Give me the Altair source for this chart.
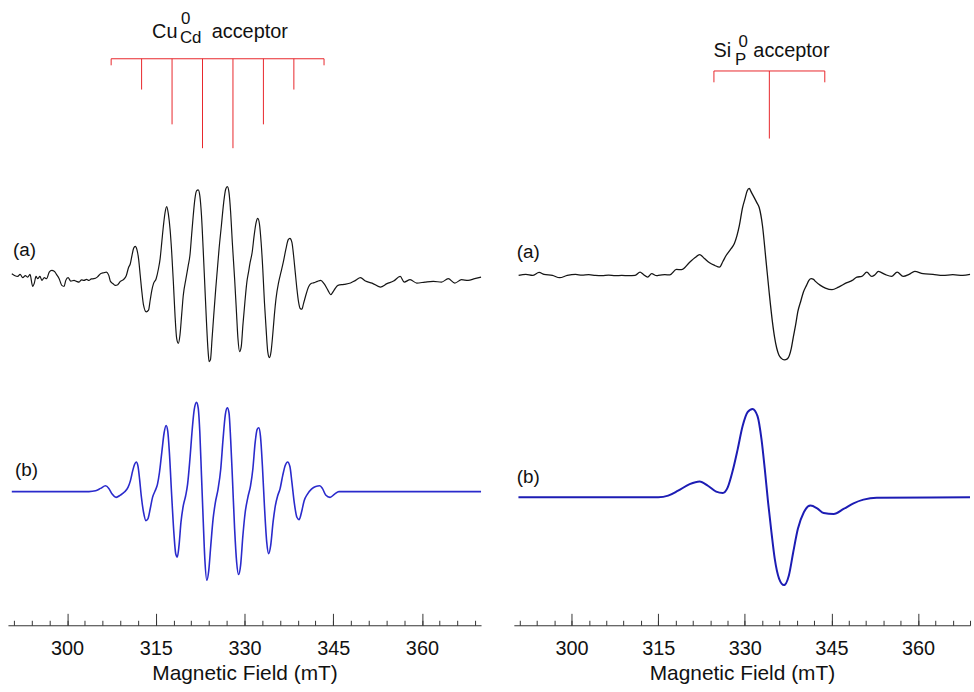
import altair as alt
import pandas as pd

# ---------------- data ----------------
MAJOR_TICKS = [300, 315, 330, 345, 360]
MINOR_TICKS = [291, 294, 297, 300, 303, 306, 309, 312, 315, 318, 321, 324, 327,
               330, 333, 336, 339, 342, 345, 348, 351, 354, 357, 360, 363, 366, 369]

# Cu_Cd acceptor stick diagram (field in mT, relative intensity)
CU_STICK_FIELD = [312.6, 317.75, 322.9, 328.05, 333.2, 338.35]
CU_STICK_INT = [31, 66, 90, 90, 66, 31]
CU_COMB_ENDS = [307.45, 343.45]

# Si_P acceptor stick diagram
SI_STICK_FIELD = [334.25]
SI_STICK_INT = [68]
SI_COMB_ENDS = [324.65, 343.85]

# Left (a): measured Cu spectrum
LEFT_A_FIELD = [290.65, 291.10, 291.66, 292.05, 292.50, 292.95, 293.34, 293.73, 294.18, 294.46,
                294.74, 295.02, 295.41, 295.74, 296.14, 296.53, 296.98, 297.42, 297.82, 298.21,
                298.66, 299.10, 299.50, 299.78, 300.17, 300.62, 301.18, 301.60, 302.02, 302.45,
                302.86, 303.30, 303.70, 304.10, 304.54, 305.10, 305.66, 306.22, 306.66, 307.05,
                307.33, 307.78, 308.17, 308.57, 309.01, 309.57, 310.02, 310.41, 310.69, 310.97,
                311.25, 311.53, 311.81, 312.09, 312.37, 312.65, 312.93, 313.38, 313.77, 314.05,
                314.33, 314.61, 315.06, 315.45, 315.73, 316.01, 316.29, 316.57, 316.85, 317.13,
                317.41, 317.69, 317.97, 318.25, 318.53, 318.81, 319.09, 319.37, 319.65, 320.10,
                320.49, 320.77, 321.05, 321.33, 321.61, 321.89, 322.17, 322.45, 322.73, 323.01,
                323.29, 323.57, 323.85, 324.02, 324.24, 324.52, 324.80, 325.14, 325.42, 325.70,
                326.09, 326.48, 326.82, 327.10, 327.38, 327.66, 327.94, 328.33, 328.61, 328.89,
                329.17, 329.45, 329.73, 330.07, 330.40, 330.68, 330.96, 331.30, 331.63, 331.97,
                332.25, 332.53, 332.81, 333.09, 333.37, 333.65, 333.93, 334.21, 334.49, 334.77,
                335.05, 335.33, 335.78, 336.17, 336.56, 337.01, 337.40, 337.68, 338.02, 338.30,
                338.58, 338.86, 339.14, 339.42, 339.70, 339.98, 340.37, 340.82, 341.21, 341.77,
                342.33, 342.89, 343.45, 344.12, 344.57, 345.13, 345.80, 346.81, 347.93, 348.77,
                349.61, 350.45, 351.57, 352.97, 354.09, 355.21, 356.33, 357.00, 358.01, 359.13,
                360.53, 361.93, 363.33, 364.45, 365.57, 366.69, 367.81, 368.93, 370.00]
LEFT_A_AMP = [6.7, 5, 4, 6, 2.7, 4.7, 3.3, 6, -6, -2.7,
              4, 1.7, 4, 0, 2.7, 1.7, 8.3, 10, 9.3, 6,
              1.7, -5, -6, 0, 2.7, -0.7, 0, -1, -1.7, 0.5,
              0, 1, 0, 1.5, 1.7, 3.3, 6.7, 7.7, 8.3, 5,
              -1, -3.3, -5, -4.3, -1, 1, 5, 13.3, 16.7, 25,
              32.3, 34.3, 31, 21.7, 5, -11.7, -25, -31.7, -30, -20,
              -10, -3.3, 1.7, 11.7, 21.7, 38.3, 55, 68.3, 74.3, 66.7,
              51.7, 28.3, -1.7, -35, -58.3, -63.3, -55, -35, -15, 1.7,
              15, 25, 45, 65, 81.7, 90, 91, 85, 65, 31.7,
              -5, -41.7, -71.7, -81.7, -80, -58.3, -35, -8.3, 11.7, 31.7,
              55, 78.3, 91.7, 94.3, 88.3, 68.3, 38.3, 1.7, -28.3, -58.3,
              -71.7, -66.7, -45, -21.7, -1.7, 8.3, 18.3, 28.3, 45, 58.3,
              62.3, 56.7, 38.3, 11.7, -21.7, -48.3, -71.7, -77.7, -71.7, -55,
              -35, -18.3, -1.7, 8.3, 18.3, 31.7, 41, 42.3, 38.3, 25,
              8.3, -8.3, -21.7, -28.3, -29, -23.3, -15, -6.7, -3.3, -2.3,
              -1, 0, -3.3, -10, -14.3, -10, -5, -4, -2.7, 0,
              2.7, -0.7, -2.7, -6.7, -3.3, -0.7, 4, -1.7, 0.7, -2.7,
              -1.7, -1, -1.7, 1.7, -2.7, 0.7, 0, 1.7, 3.3]

# Left (b): simulated Cu spectrum
LEFT_B_FIELD = [290.65, 303.70, 304.82, 305.66, 306.50, 307.06, 307.62, 308.29, 309.02, 309.74,
                310.30, 310.70, 311.09, 311.42, 311.70, 311.98, 312.26, 312.54, 312.93, 313.33,
                313.66, 314.05, 314.45, 314.89, 315.29, 315.62, 316.01, 316.41, 316.74, 317.02,
                317.30, 317.69, 318.09, 318.37, 318.65, 318.93, 319.26, 319.65, 320.05, 320.38,
                320.77, 321.16, 321.50, 321.89, 322.17, 322.45, 322.73, 323.01, 323.29, 323.63,
                323.96, 324.30, 324.69, 325.08, 325.53, 325.98, 326.37, 326.76, 327.10, 327.38,
                327.66, 327.99, 328.33, 328.67, 329.00, 329.34, 329.73, 330.12, 330.57, 331.02,
                331.41, 331.80, 332.14, 332.42, 332.70, 333.03, 333.37, 333.76, 334.10, 334.43,
                334.83, 335.22, 335.61, 336.00, 336.45, 336.90, 337.29, 337.68, 338.02, 338.41,
                338.86, 339.25, 339.64, 340.09, 340.65, 341.32, 342.05, 342.72, 343.17, 343.73,
                344.46, 345.24, 345.97, 346.81, 370.00]
LEFT_B_AMP = [0, 0, 0.8, 3.2, 5.8, 3.2, -2.5, -5.8, -3.5, -0.2,
              4.2, 10.8, 20.8, 27.5, 29.8, 25.8, 12.5, -4.2, -20.8, -29.2,
              -27.5, -17.5, -5.8, 0.8, 7.5, 19.2, 39.2, 59.2, 66.5, 60.8,
              39.2, -4.2, -44.2, -62.5, -65.8, -54.2, -30.8, -14.2, -4.2, 7.5,
              32.5, 62.5, 82.5, 89.8, 84.2, 59.2, 15.8, -27.5, -67.5, -89.2,
              -79.2, -54.2, -27.5, -10.8, 2.5, 22.5, 52.5, 77.5, 84.2, 79.2,
              52.5, 9.2, -37.5, -70.8, -83.5, -74.2, -44.2, -20.8, -5.8, 5.8,
              22.5, 49.2, 62.5, 64.2, 55.8, 25.8, -14.2, -50.8, -62.5, -54.2,
              -30.8, -14.2, -4.2, 2.5, 15.8, 26.5, 29.8, 25.2, 9.2, -10.8,
              -25.8, -28.2, -20.8, -9.2, -2.5, 2.5, 5.2, 5.8, 3.2, -3.5,
              -5.8, -2.5, 0, 0, 0]

# Right (a): measured Si spectrum
RIGHT_A_FIELD = [290.83, 292.09, 293.24, 294.38, 295.24, 296.68, 297.94, 299.26, 300.69, 301.80,
                 302.98, 304.10, 305.27, 306.40, 307.56, 308.70, 309.86, 311.00, 311.86, 312.44,
                 313.18, 313.87, 314.73, 315.01, 316.16, 317.02, 318.16, 319.02, 320.45, 321.40,
                 322.17, 323.00, 323.89, 324.80, 325.61, 326.20, 326.76, 327.50, 328.19, 329.05,
                 329.60, 330.02, 330.40, 330.77, 331.10, 331.63, 332.10, 332.49, 333.06, 333.64,
                 334.21, 334.78, 335.15, 335.53, 335.90, 336.33, 336.85, 337.36, 338.05, 338.40,
                 338.79, 339.20, 339.65, 340.20, 340.68, 341.10, 341.49, 341.90, 342.23, 343.09,
                 343.95, 345.10, 346.24, 347.68, 348.60, 349.40, 350.26, 351.12, 351.98, 352.50,
                 353.13, 354.27, 355.42, 356.39, 357.42, 358.45, 359.43, 360.86, 362.58, 364.30,
                 366.02, 367.74, 369.00]
RIGHT_A_AMP = [0, 1, 0, 3, 1, 0, -2.3, 0, 1, 0.3,
               0.7, 0, -0.3, 0.3, -0.3, 0, -0.3, 0, 3.3, 1,
               -1.7, 1.7, -0.3, 0, 0.7, 0.5, 6, 5.8, 13.3, 18,
               21, 17, 12.7, 10, 8.3, 14, 20, 26, 32, 50,
               68, 77, 85, 87.5, 84, 78.3, 73, 68.3, 50, 16.7,
               -16.7, -46.7, -62, -73.3, -80, -83.5, -85, -84, -73.3, -62,
               -50, -36, -26.7, -16, -10, -5, -3.3, -4, -6, -10,
               -12.7, -14.3, -11.7, -7.3, -5, -1.7, -1, 3.3, -1, 0.5,
               4, 1, -1, 3.3, -1, 1, 4, 1.7, 1, 0,
               0.7, 0, 1]

# Right (b): simulated Si spectrum
RIGHT_B_FIELD = [290.80, 315.01, 316.73, 318.45, 320.45, 322.17, 323.60, 325.04, 326.18, 327.04,
                 327.90, 328.76, 329.62, 330.48, 331.34, 332.20, 332.89, 333.46, 334.03, 334.61,
                 335.18, 335.93, 336.78, 337.64, 338.39, 339.19, 340.22, 341.37, 342.52, 343.66,
                 345.38, 347.10, 348.82, 350.54, 352.83, 369.00]
RIGHT_B_AMP = [0, 0, 1.7, 6.7, 13.3, 16, 11.7, 5.7, 4.3, 10,
               26.7, 48.3, 71.7, 85.7, 89, 81.7, 58.3, 28.3, -5, -35,
               -61.7, -81.7, -88.3, -78.3, -55, -31.7, -15, -8.3, -11, -15.7,
               -16.7, -11.7, -6, -2.3, -0.3, 0]

# ---------------- layout / style ----------------
FONT = "Liberation Sans"
H = 627
W_LEFT, W_RIGHT = 476, 459
RED = "#e8262b"
TXT = "#111111"
AXC = "#333333"


def text_layer(txt, x, y, size):
    return alt.Chart(pd.DataFrame({"t": [txt]})).mark_text(
        align="left", baseline="alphabetic", font=FONT, fontSize=size, color=TXT
    ).encode(text="t:N", x=alt.value(x), y=alt.value(y))


def panel(width, domain, a_f, a_y, b_f, b_y, a_base, b_base, a_width,
          b_color, b_width, st_f, st_i, ends, end_len, comb, texts):
    xs = alt.Scale(domain=domain, nice=False, zero=False)
    ys = alt.Scale(domain=[0, H], nice=False, zero=False)

    major_axis = alt.Axis(orient="top", offset=-H, values=MAJOR_TICKS, tickSize=12,
                          tickColor=AXC, tickWidth=1, domain=False, labels=False,
                          title=None, grid=False)
    minor_axis = alt.Axis(orient="top", offset=-H, values=MINOR_TICKS, tickSize=5,
                          tickColor=AXC, tickWidth=1, domain=False, labels=False,
                          title=None, grid=False)
    bottom_axis = alt.Axis(orient="bottom", values=MAJOR_TICKS, ticks=False, domain=True,
                           domainColor=AXC, domainWidth=1, grid=False, format="d",
                           labelFont=FONT, labelFontSize=20, labelColor=TXT,
                           labelPadding=13, labelFlush=False, labelOverlap=False,
                           title="Magnetic Field (mT)", titleFont=FONT, titleFontSize=21,
                           titleFontWeight="normal", titleColor=TXT, titlePadding=5)

    da = pd.DataFrame({"field": a_f, "amp": a_y})
    db = pd.DataFrame({"field": b_f, "amp": b_y})
    line_a = alt.Chart(da).transform_calculate(y=f"datum.amp + {a_base}").mark_line(
        color="#151515", strokeWidth=a_width, interpolate="monotone"
    ).encode(x=alt.X("field:Q", scale=xs, axis=major_axis),
             y=alt.Y("y:Q", scale=ys, axis=None))
    line_b = alt.Chart(db).transform_calculate(y=f"datum.amp + {b_base}").mark_line(
        color=b_color, strokeWidth=b_width, interpolate="monotone"
    ).encode(x=alt.X("field:Q", scale=xs, axis=minor_axis),
             y=alt.Y("y:Q", scale=ys, axis=None))

    dst = pd.DataFrame({"field": st_f, "intensity": st_i})
    sticks = alt.Chart(dst).transform_calculate(
        top=f"{comb}", bot=f"{comb} - datum.intensity"
    ).mark_rule(color=RED, strokeWidth=1).encode(
        x=alt.X("field:Q", scale=xs, axis=bottom_axis),
        y=alt.Y("top:Q", scale=ys, axis=None), y2="bot:Q")

    dends = pd.DataFrame({"field": ends})
    end_ticks = alt.Chart(dends).transform_calculate(
        top=f"{comb}", bot=f"{comb} - {end_len}"
    ).mark_rule(color=RED, strokeWidth=1).encode(
        x=alt.X("field:Q", scale=xs, axis=None),
        y=alt.Y("top:Q", scale=ys, axis=None), y2="bot:Q")

    dcomb = pd.DataFrame({"lo": [min(ends)], "hi": [max(ends)]})
    comb_line = alt.Chart(dcomb).transform_calculate(lev=f"{comb}").mark_rule(
        color=RED, strokeWidth=1).encode(
        x=alt.X("lo:Q", scale=xs, axis=None), x2="hi:Q",
        y=alt.Y("lev:Q", scale=ys, axis=None))

    layers = [line_a, line_b, sticks, end_ticks, comb_line]
    layers += [text_layer(*t) for t in texts]
    return alt.layer(*layers).properties(width=width, height=H).resolve_axis(x="independent")


left = panel(W_LEFT, [290, 370], LEFT_A_FIELD, LEFT_A_AMP, LEFT_B_FIELD, LEFT_B_AMP,
             347, 134.5, 1.2, "#2a2acc", 1.6,
             CU_STICK_FIELD, CU_STICK_INT, CU_COMB_ENDS, 6.6, 570,
             [("Cu", 145, 35.7, 20), ("Cd", 173, 41.5, 17), ("0", 174, 21.7, 17),
              ("acceptor", 205, 35.7, 20), ("(a)", 5, 255, 19), ("(b)", 7, 477, 19)])

right = panel(W_RIGHT, [290, 369], RIGHT_A_FIELD, RIGHT_A_AMP, RIGHT_B_FIELD, RIGHT_B_AMP,
              352, 128.7, 1.3, "#1c1cb4", 2.0,
              SI_STICK_FIELD, SI_STICK_INT, SI_COMB_ENDS, 11.4, 557.7,
              [("Si", 201, 55, 20), ("P", 222.5, 63.5, 17), ("0", 226, 45, 17),
               ("acceptor", 241, 55, 20), ("(a)", 3, 257, 19), ("(b)", 3, 484, 19)])

chart = alt.hconcat(left, right, spacing=33, bounds="flush").properties(
    padding={"left": 8, "top": 0, "right": 0, "bottom": 0},
    background="white"
).configure(font=FONT).configure_view(stroke=None)

chart.save("out.html", embed_options={"renderer": "svg", "actions": False})
